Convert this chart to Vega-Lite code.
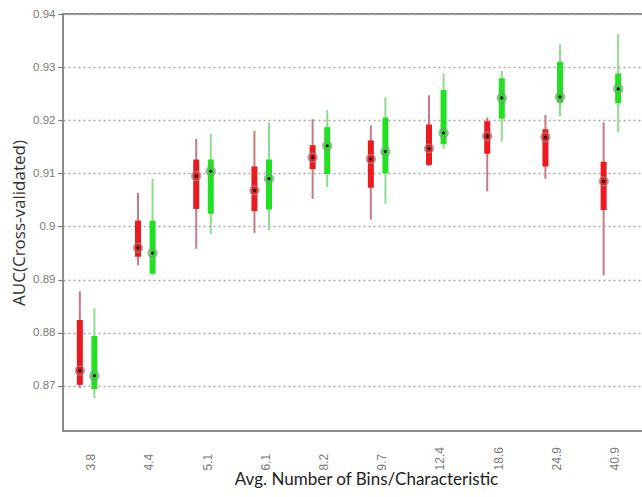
{
  "$schema": "https://vega.github.io/schema/vega-lite/v6.json",
  "width": 580,
  "height": 417,
  "autosize": {"type": "none"},
  "padding": {"left": 63, "top": 14, "right": 0, "bottom": 66},
  "background": "white",
  "config": {
    "view": {"stroke": "#8c8c8c", "strokeWidth": 2},
    "axis": {"labelFont": "Liberation Sans", "titleFont": "Liberation Sans"}
  },
  "data": {
    "values": [
      {"bins": "3.8", "series": "red", "lo": 0.8696, "q1": 0.8702, "med": 0.8729, "q3": 0.8824, "hi": 0.8878},
      {"bins": "3.8", "series": "green", "lo": 0.8677, "q1": 0.8694, "med": 0.8719, "q3": 0.8794, "hi": 0.8846},
      {"bins": "4.4", "series": "red", "lo": 0.8927, "q1": 0.8943, "med": 0.896, "q3": 0.9011, "hi": 0.9063},
      {"bins": "4.4", "series": "green", "lo": 0.8908, "q1": 0.8911, "med": 0.895, "q3": 0.9011, "hi": 0.909},
      {"bins": "5.1", "series": "red", "lo": 0.8958, "q1": 0.9033, "med": 0.9095, "q3": 0.9126, "hi": 0.9165},
      {"bins": "5.1", "series": "green", "lo": 0.8986, "q1": 0.9024, "med": 0.9104, "q3": 0.9126, "hi": 0.9174},
      {"bins": "6.1", "series": "red", "lo": 0.8988, "q1": 0.9029, "med": 0.9068, "q3": 0.9113, "hi": 0.918},
      {"bins": "6.1", "series": "green", "lo": 0.8993, "q1": 0.9032, "med": 0.909, "q3": 0.9126, "hi": 0.9196},
      {"bins": "8.2", "series": "red", "lo": 0.9052, "q1": 0.9108, "med": 0.913, "q3": 0.9153, "hi": 0.9202},
      {"bins": "8.2", "series": "green", "lo": 0.9074, "q1": 0.9099, "med": 0.9152, "q3": 0.9187, "hi": 0.9219},
      {"bins": "9.7", "series": "red", "lo": 0.9013, "q1": 0.9073, "med": 0.9127, "q3": 0.9162, "hi": 0.919},
      {"bins": "9.7", "series": "green", "lo": 0.9043, "q1": 0.91, "med": 0.9141, "q3": 0.9205, "hi": 0.9243},
      {"bins": "12.4", "series": "red", "lo": 0.9114, "q1": 0.9116, "med": 0.9147, "q3": 0.9192, "hi": 0.9247},
      {"bins": "12.4", "series": "green", "lo": 0.9146, "q1": 0.9155, "med": 0.9176, "q3": 0.9257, "hi": 0.9288},
      {"bins": "18.6", "series": "red", "lo": 0.9066, "q1": 0.9137, "med": 0.917, "q3": 0.9198, "hi": 0.9205},
      {"bins": "18.6", "series": "green", "lo": 0.916, "q1": 0.9203, "med": 0.9242, "q3": 0.9279, "hi": 0.9293},
      {"bins": "24.9", "series": "red", "lo": 0.909, "q1": 0.9113, "med": 0.9168, "q3": 0.9183, "hi": 0.921},
      {"bins": "24.9", "series": "green", "lo": 0.9207, "q1": 0.9233, "med": 0.9244, "q3": 0.931, "hi": 0.9343},
      {"bins": "40.9", "series": "red", "lo": 0.8908, "q1": 0.9031, "med": 0.9085, "q3": 0.9122, "hi": 0.9196},
      {"bins": "40.9", "series": "green", "lo": 0.9177, "q1": 0.9232, "med": 0.9259, "q3": 0.9288, "hi": 0.9362}
    ]
  },
  "encoding": {
    "x": {
      "field": "bins",
      "type": "nominal",
      "sort": null,
      "scale": {"type": "band", "range": [-5, 577], "paddingInner": 0, "paddingOuter": 0},
      "axis": {
        "title": "Avg. Number of Bins/Characteristic",
        "labelAngle": 270,
        "labelAlign": "left",
        "labelBaseline": "middle",
        "labelPadding": 39,
        "labelOffset": 4,
        "labelFontSize": 12,
        "labelColor": "#7a7a7a",
        "ticks": false,
        "domain": false,
        "titleFont": "Lato",
        "titleFontSize": 17,
        "titleFontWeight": "normal",
        "titleColor": "#222222",
        "titlePadding": 1,
        "titleX": 303
      }
    },
    "xOffset": {
      "field": "series",
      "type": "nominal",
      "sort": ["red", "green"],
      "scale": {"paddingInner": 0, "paddingOuter": 2.385}
    }
  },
  "layer": [
    {
      "mark": {"type": "rule", "strokeWidth": 2},
      "encoding": {
        "y": {
          "field": "lo",
          "type": "quantitative",
          "scale": {"domain": [0.8615, 0.94], "nice": false, "zero": false},
          "axis": {
            "title": "AUC(Cross-validated)",
            "values": [0.87, 0.88, 0.89, 0.9, 0.91, 0.92, 0.93, 0.94],
            "format": "~f",
            "grid": true,
            "gridDash": [2, 3],
            "gridColor": "#a8a8a8",
            "gridWidth": 1.5,
            "domain": false,
            "tickColor": "#777777",
            "tickSize": 5,
            "labelPadding": 3,
            "labelFontSize": 11.5,
            "labelColor": "#7a7a7a",
            "titleFont": "Open Sans",
            "titleFontSize": 17,
            "titleFontWeight": "normal",
            "titleColor": "#333333",
            "titlePadding": 4
          }
        },
        "y2": {"field": "hi"},
        "color": {
          "field": "series",
          "type": "nominal",
          "scale": {"domain": ["red", "green"], "range": ["#c77a85", "#8fdc8f"]},
          "legend": null
        }
      }
    },
    {
      "mark": {"type": "rule", "strokeWidth": 6},
      "encoding": {
        "y": {"field": "q1", "type": "quantitative"},
        "y2": {"field": "q3"},
        "color": {
          "field": "series",
          "type": "nominal",
          "scale": {"domain": ["red", "green"], "range": ["#ec1a1f", "#22e022"]},
          "legend": null
        }
      }
    },
    {
      "mark": {"type": "point", "filled": true, "size": 80, "stroke": "#8e8e8e", "strokeWidth": 1.5},
      "encoding": {
        "y": {"field": "med", "type": "quantitative"},
        "color": {
          "field": "series",
          "type": "nominal",
          "scale": {"domain": ["red", "green"], "range": ["#ec1a1f", "#22e022"]},
          "legend": null
        }
      }
    },
    {
      "mark": {"type": "point", "filled": true, "size": 10, "color": "#000000", "opacity": 1},
      "encoding": {
        "y": {"field": "med", "type": "quantitative"}
      }
    }
  ],
  "resolve": {"scale": {"color": "independent"}}
}
